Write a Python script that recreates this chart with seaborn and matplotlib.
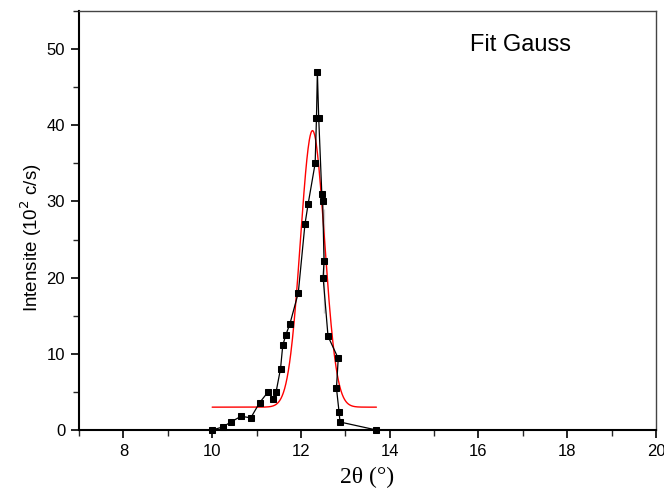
import numpy as np
import pandas as pd
import matplotlib
matplotlib.use("Agg")
import matplotlib.pyplot as plt
import seaborn as sns
from matplotlib.ticker import MultipleLocator

# Measured data (2theta in degrees, intensity in 10^2 c/s)
two_theta = [10.00, 10.24, 10.42, 10.65, 10.87, 11.07, 11.26, 11.38, 11.44, 11.54,
             11.59, 11.66, 11.75, 11.94, 12.09, 12.16, 12.32, 12.35, 12.37, 12.40,
             12.47, 12.49, 12.52, 12.50, 12.52, 12.61, 12.84, 12.80, 12.86, 12.86,
             12.88, 13.70]
intensity = [0.0, 0.4, 1.05, 1.8, 1.6, 3.6, 5.0, 4.1, 5.0, 8.05,
             11.1, 12.5, 13.9, 18.0, 27.0, 29.6, 35.0, 41.0, 47.0, 41.0,
             31.0, 30.0, 29.0, 20.0, 15.4, 12.3, 9.4, 5.5, 2.5, 2.1,
             1.05, 0.0]

# Gaussian fit parameters
fit_range = [10.0, 13.7]
fit_baseline = 3.0
fit_amplitude = 36.3
fit_center = 12.26
fit_sigma = 0.27

sns.set_style("ticks")
plt.rcParams['font.family'] = ['Liberation Sans', 'DejaVu Sans']
plt.rcParams['text.color'] = 'black'
plt.rcParams['axes.labelcolor'] = 'black'

fig = plt.figure(figsize=(6.64, 4.95), dpi=100)
ax = fig.add_axes([0.119, 0.1313, 0.869, 0.8465])

xf = np.linspace(fit_range[0], fit_range[1], 400)
yf = fit_baseline + fit_amplitude * np.exp(-0.5 * ((xf - fit_center) / fit_sigma) ** 2)
fit_df = pd.DataFrame({"x": xf, "y": yf})
sns.lineplot(data=fit_df, x="x", y="y", color="#ff0000", linewidth=1.0, ax=ax, sort=False)

df = pd.DataFrame({"x": two_theta, "y": intensity})
sns.lineplot(data=df, x="x", y="y", color="black", linewidth=0.9, marker="s",
             markersize=3.7, markeredgecolor="black", markerfacecolor="black",
             ax=ax, sort=False, clip_on=False, zorder=5)

ax.set_xlim(7, 20)
ax.set_ylim(0, 55)
ax.xaxis.set_major_locator(MultipleLocator(2))
ax.xaxis.set_minor_locator(MultipleLocator(1))
ax.yaxis.set_major_locator(MultipleLocator(10))
ax.yaxis.set_minor_locator(MultipleLocator(5))
ax.tick_params(axis="both", which="major", direction="out", length=6, width=1.2,
               labelsize=12, colors="black", pad=4)
ax.tick_params(axis="both", which="minor", direction="out", length=4, width=1.0)
ax.tick_params(top=False, right=False)

for side in ["left", "bottom"]:
    ax.spines[side].set_linewidth(1.5)
    ax.spines[side].set_color("black")
for side in ["top", "right"]:
    ax.spines[side].set_linewidth(1.0)
    ax.spines[side].set_color("#444444")

ax.set_xlabel("2θ (°)", family=["Liberation Serif", "DejaVu Serif"], fontsize=17, labelpad=6)
ax.set_ylabel("Intensite (10$^2$ c/s)", fontsize=13.5)
ax.yaxis.set_label_coords(-0.06, 0.458)
ax.text(0.678, 0.919, "Fit Gauss", transform=ax.transAxes, fontsize=17,
        ha="left", va="center", color="black")

fig.savefig("out.png", dpi=100)
